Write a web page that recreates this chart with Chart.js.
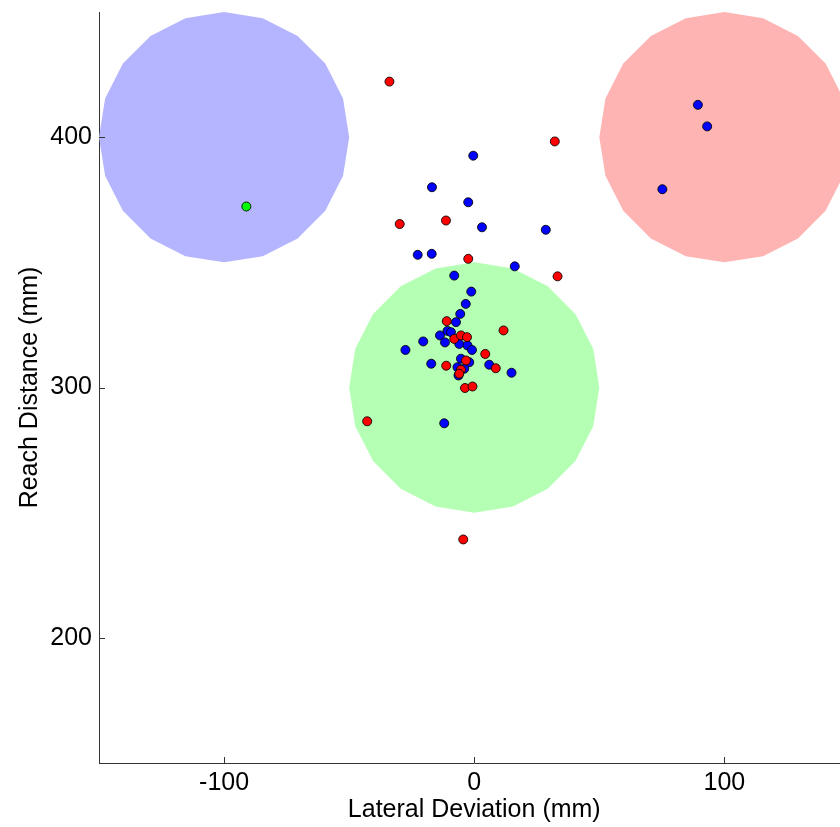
<!DOCTYPE html>
<html>
<head>
<meta charset="utf-8">
<script src="https://cdn.jsdelivr.net/npm/chart.js@4/dist/chart.umd.min.js"></script>
<style>
html, body { margin: 0; padding: 0; background: #fff; overflow: hidden; }
#wrap { width: 840px; height: 827px; overflow: hidden; position: relative; }
canvas { display: block; }
</style>
</head>
<body>
<div id="wrap"><canvas id="c" width="855" height="827"></canvas></div>
<script>
// ---- Data ----
const xTicks = [-100, 0, 100];
const yTicks = [200, 300, 400];

// target regions (centre x, centre y, radius in mm)
const regionX = [-100, 100, 0];
const regionY = [400, 400, 300];
const regionR = [50, 50, 50];
const regionFill = ['rgb(180,180,255)', 'rgb(255,180,180)', 'rgb(180,255,180)'];
const regionSides = 20;

// red reaches
const redX = [-33.9, 32.2, -29.8, -11.3, -2.4, 33.3, 11.7, -11.0, -8.0, -5.3, -2.9, 4.4, 8.6, -11.2, -3.3, -5.3, -6.0, -3.7, -0.7, -42.8, -4.4];
const redY = [422.2, 398.3, 365.3, 366.7, 351.4, 344.4, 322.8, 326.5, 319.4, 320.8, 320.1, 313.4, 307.7, 308.7, 310.8, 307.1, 305.5, 299.8, 300.4, 286.5, 239.3];

// blue reaches
const blueX = [-0.4, -16.9, -2.4, 3.1, 28.6, -22.6, -17.0, 16.2, -8.0, -1.2, -3.4, -5.6, -7.3, -13.7, -10.7, -9.3, -20.4, -11.7, -6.0, -2.7, -0.9, -27.5, 6.0, 14.9, -17.2, -5.3, -2.0, -6.7, -4.0, -6.3, -12.0, 89.4, 93.1, 75.2];
const blueY = [392.6, 380.0, 374.0, 364.0, 363.0, 353.0, 353.4, 348.4, 344.7, 338.3, 333.4, 329.4, 326.1, 320.8, 322.6, 322.1, 318.4, 318.0, 317.4, 316.8, 315.0, 315.0, 309.1, 305.9, 309.5, 311.5, 310.1, 308.1, 307.5, 304.8, 285.7, 412.9, 404.3, 379.2];

// green reaches
const greenX = [-91.1];
const greenY = [372.3];

const toPts = (xs, ys) => xs.map((x, i) => ({ x: x, y: ys[i] }));

const AXIS_COLOR = '#333333';
const FONT = "'Liberation Sans', Arial, sans-serif";

const regionsPlugin = {
  id: 'regions',
  beforeDatasetsDraw(chart) {
    const { ctx, chartArea, scales } = chart;
    ctx.save();
    ctx.beginPath();
    ctx.rect(chartArea.left, chartArea.top, chartArea.right - chartArea.left, chartArea.bottom - chartArea.top);
    ctx.clip();
    for (let r = 0; r < regionX.length; r++) {
      ctx.beginPath();
      for (let k = 0; k < regionSides; k++) {
        const a = 2 * Math.PI * k / regionSides;
        const px = scales.x.getPixelForValue(regionX[r] + regionR[r] * Math.cos(a));
        const py = scales.y.getPixelForValue(regionY[r] + regionR[r] * Math.sin(a));
        if (k === 0) ctx.moveTo(px, py); else ctx.lineTo(px, py);
      }
      ctx.closePath();
      ctx.fillStyle = regionFill[r];
      ctx.fill();
    }
    ctx.restore();
  }
};

const inwardTicks = {
  id: 'inwardTicks',
  afterDraw(chart) {
    const { ctx, chartArea, scales } = chart;
    ctx.save();
    ctx.strokeStyle = AXIS_COLOR;
    ctx.lineWidth = 1;
    ctx.beginPath();
    yTicks.forEach(v => {
      const y = Math.round(scales.y.getPixelForValue(v)) + 0.5;
      ctx.moveTo(chartArea.left, y);
      ctx.lineTo(chartArea.left + 6, y);
    });
    xTicks.forEach(v => {
      const x = Math.round(scales.x.getPixelForValue(v)) + 0.5;
      ctx.moveTo(x, chartArea.bottom);
      ctx.lineTo(x, chartArea.bottom - 6);
    });
    ctx.stroke();
    ctx.restore();
  }
};

const pointStyle = (color) => ({
  backgroundColor: color,
  borderColor: 'rgba(0,0,0,0.85)',
  borderWidth: 1,
  pointRadius: 4.5,
  pointHoverRadius: 4.5
});

new Chart(document.getElementById('c'), {
  type: 'scatter',
  data: {
    datasets: [
      Object.assign({ label: 'Red', data: toPts(redX, redY) }, pointStyle('#ff0000')),
      Object.assign({ label: 'Blue', data: toPts(blueX, blueY) }, pointStyle('#0000ff')),
      Object.assign({ label: 'Green', data: toPts(greenX, greenY) }, pointStyle('#00ff00'))
    ]
  },
  options: {
    responsive: false,
    animation: false,
    devicePixelRatio: 1,
    layout: { padding: { top: 12, right: 1, bottom: 0, left: 0 } },
    plugins: {
      legend: { display: false },
      tooltip: { enabled: false }
    },
    scales: {
      x: {
        type: 'linear',
        min: -150, max: 150,
        afterBuildTicks: (s) => { s.ticks = xTicks.map(v => ({ value: v })); },
        afterFit: (s) => { s.height = 64; s.paddingLeft = 0; s.paddingRight = 0; },
        grid: { display: false, drawTicks: false },
        border: { display: true, color: AXIS_COLOR, width: 1 },
        ticks: { color: '#000', padding: 5, maxRotation: 0, font: { family: FONT, size: 25 } },
        title: { display: true, text: 'Lateral Deviation (mm)', color: '#000', padding: { top: 0, bottom: 2 }, font: { family: FONT, size: 25 } }
      },
      y: {
        type: 'linear',
        min: 150, max: 450,
        afterBuildTicks: (s) => { s.ticks = yTicks.map(v => ({ value: v })); },
        afterFit: (s) => { s.width = 99; s.paddingTop = 0; s.paddingBottom = 0; },
        grid: { display: false, drawTicks: false },
        border: { display: true, color: AXIS_COLOR, width: 1 },
        ticks: { color: '#000', padding: 7, font: { family: FONT, size: 25 } },
        title: { display: true, text: 'Reach Distance (mm)', color: '#000', padding: { top: 15, bottom: 0 }, font: { family: FONT, size: 25 } }
      }
    }
  },
  plugins: [regionsPlugin, inwardTicks]
});
</script>
</body>
</html>
